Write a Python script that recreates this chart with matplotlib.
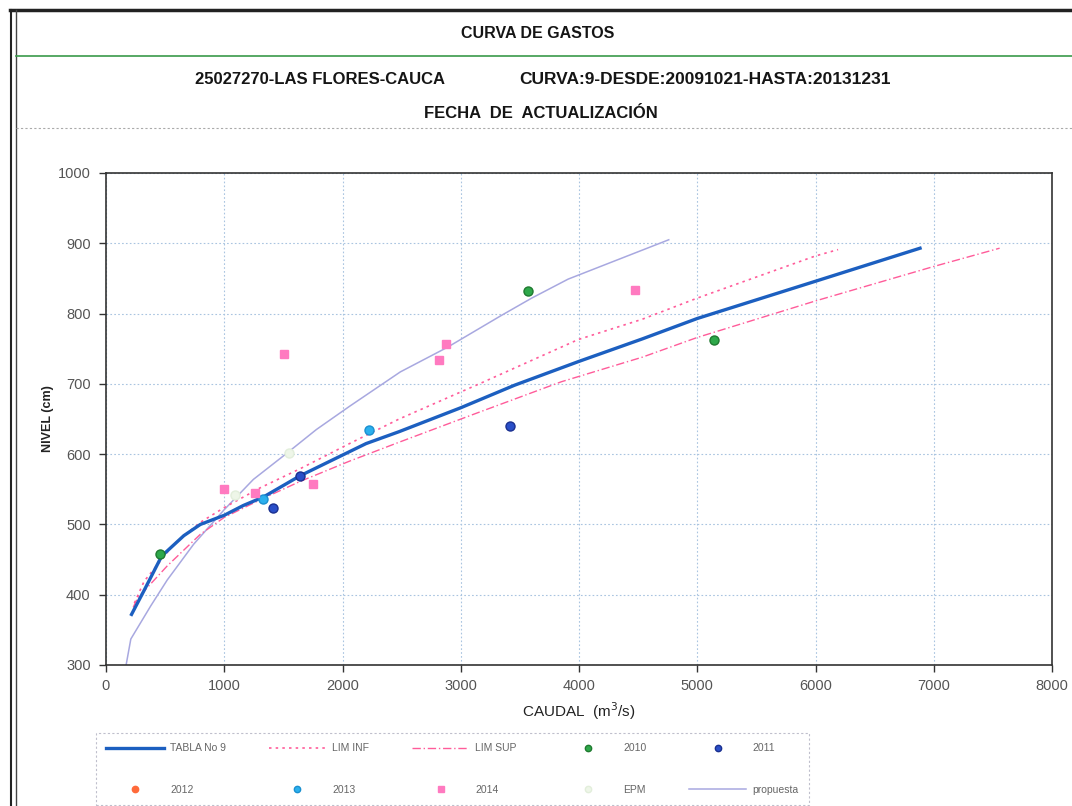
import matplotlib
matplotlib.use("Agg")
import matplotlib.pyplot as plt
from matplotlib.lines import Line2D

plt.rcParams['font.family'] = ['Liberation Sans', 'DejaVu Sans']

# ---- data ----
tabla_q = [216, 322, 471, 658, 798, 1000, 1162, 1331, 1639, 1919, 2199, 2479, 3000, 3454, 4000, 4536, 5000, 6000, 6884]
tabla_h = [372, 406, 455, 484, 500, 513, 527, 539, 569, 592, 615, 632, 666, 698, 732, 764, 793, 846, 893]

liminf_q = [240, 322, 574, 798, 1000, 1303, 1639, 2059, 2479, 3170, 3993, 4536, 5000, 6000, 6191]
liminf_h = [388, 419, 472, 503, 524, 552, 579, 615, 650, 701, 763, 792, 822, 882, 891]

limsup_q = [230, 266, 518, 798, 1000, 1303, 1639, 2059, 2479, 3113, 3851, 4536, 5000, 6000, 7000, 7557]
limsup_h = [382, 395, 441, 486, 510, 535, 561, 590, 617, 657, 703, 738, 766, 818, 867, 893]

prop_q = [170, 210, 378, 518, 742, 1000, 1246, 1527, 1779, 2059, 2489, 2887, 3340, 3600, 3908, 4759]
prop_h = [300, 337, 384, 421, 472, 521, 564, 601, 635, 668, 717, 752, 797, 822, 849, 905]

y2010_q = [460, 3570, 5140]
y2010_h = [458, 832, 763]
y2011_q = [1415, 1639, 3417]
y2011_h = [524, 569, 640]
y2012_q = []
y2012_h = []
y2013_q = [1325, 2227]
y2013_h = [536, 635]
y2014_q = [994, 1261, 1508, 1751, 2816, 2878, 4475]
y2014_h = [550, 545, 742, 558, 734, 757, 834]
epm_q = [1092, 1550]
epm_h = [542, 602]

x_ticks = [0, 1000, 2000, 3000, 4000, 5000, 6000, 7000, 8000]
y_ticks = [300, 400, 500, 600, 700, 800, 900, 1000]

W, H = 1072, 806
fig = plt.figure(figsize=(W / 100, H / 100), dpi=100)
fig.patch.set_facecolor('white')

def fx(px):
    return px / W

def fy(py):
    return 1 - py / H

# ---- header frame ----
fig.add_artist(Line2D([fx(10), fx(1072)], [fy(10), fy(10)], color='#222222', lw=2.5))
fig.add_artist(Line2D([fx(11), fx(11)], [fy(10), fy(806)], color='#222222', lw=1.5))
fig.add_artist(Line2D([fx(16), fx(16)], [fy(10), fy(806)], color='#444444', lw=1.0))
fig.add_artist(Line2D([fx(16), fx(1072)], [fy(56), fy(56)], color='#3a9a4a', lw=1.2))
fig.add_artist(Line2D([fx(16), fx(1072)], [fy(128), fy(128)], color='#aaaaaa', lw=0.8, ls=(0, (2, 2))))

hdr = dict(ha='center', va='center', fontweight='bold', color='#151515')
fig.text(fx(538), fy(33), 'CURVA DE GASTOS', fontsize=11.5, **hdr)
fig.text(fx(320), fy(80), '25027270-LAS FLORES-CAUCA', fontsize=12, **hdr)
fig.text(fx(705), fy(80), 'CURVA:9-DESDE:20091021-HASTA:20131231', fontsize=12.5, **hdr)
fig.text(fx(541), fy(113), 'FECHA  DE  ACTUALIZACIÓN', fontsize=12, **hdr)

# ---- axes ----
ax = fig.add_axes([fx(106), fy(665), fx(1052) - fx(106), fy(173) - fy(665)])
ax.set_xlim(0, 8000)
ax.set_ylim(300, 1000)
ax.set_xticks(x_ticks)
ax.set_yticks(y_ticks)
ax.grid(True, color='#a9c4e0', lw=0.8, ls=(0, (1.5, 2)))
ax.set_axisbelow(True)
for s in ax.spines.values():
    s.set_color('#333333')
    s.set_linewidth(1.2)
ax.tick_params(axis='both', direction='out', length=5, width=1, colors='#333333',
               labelsize=10.5, labelcolor='#555555')
ax.tick_params(axis='y', pad=6)
ax.tick_params(axis='x', pad=5)

ax.plot(prop_q, prop_h, color='#a8a8e0', lw=1.1, label='propuesta', zorder=2)
ax.plot(liminf_q, liminf_h, color='#ff5c9a', lw=1.2, ls=(0, (1.5, 2.5)), label='LIM INF', zorder=3)
ax.plot(limsup_q, limsup_h, color='#ff5c9a', lw=1.0, ls=(0, (6, 2, 1, 2)), label='LIM SUP', zorder=3)
ax.plot(tabla_q, tabla_h, color='#1c5fc0', lw=2.4, label='TABLA No 9', zorder=4)

ms = 6.5
ax.plot(y2010_q, y2010_h, 'o', color='#2ea84a', mec='#1f7a30', ms=ms, ls='none', label='2010', zorder=5)
ax.plot(y2011_q, y2011_h, 'o', color='#2a4fc8', mec='#1a3090', ms=ms, ls='none', label='2011', zorder=5)
ax.plot(y2012_q, y2012_h, 'o', color='#ff6a3a', ms=ms, ls='none', label='2012', zorder=5)
ax.plot(y2013_q, y2013_h, 'o', color='#2bb0ee', mec='#1a90d0', ms=ms, ls='none', label='2013', zorder=5)
ax.plot(y2014_q, y2014_h, 's', color='#ff7ac0', mec='#ff7ac0', ms=5.5, ls='none', label='2014', zorder=5)
ax.plot(epm_q, epm_h, 'o', color='#eef6e8', mec='#e2eedb', ms=ms, ls='none', label='EPM', zorder=5)

ax.set_xlabel('CAUDAL  (m$^3$/s)', fontsize=11, color='#222222', labelpad=5)
ax.set_ylabel('NIVEL (cm)', fontsize=9, fontweight='bold', color='#222222', labelpad=3)

# ---- legend (row-major order) ----
hmap = {h.get_label(): h for h in ax.get_lines()}
order = ['TABLA No 9', '2012', 'LIM INF', '2013', 'LIM SUP', '2014', '2010', 'EPM', '2011', 'propuesta']
leg = fig.legend([hmap[k] for k in order], order, loc='upper left',
                 bbox_to_anchor=(fx(96), fy(733)), ncol=5, fontsize=7.5,
                 handlelength=5.5, handletextpad=0.6, columnspacing=4.1, labelspacing=3.0,
                 frameon=True, fancybox=False, borderpad=1.0, borderaxespad=0, markerscale=0.7)
leg.get_frame().set_edgecolor('#b0b0c0')
leg.get_frame().set_linewidth(0.8)
leg.get_frame().set_linestyle((0, (2, 2)))
for t in leg.get_texts():
    t.set_color('#666666')

fig.savefig('out.png', dpi=100)
